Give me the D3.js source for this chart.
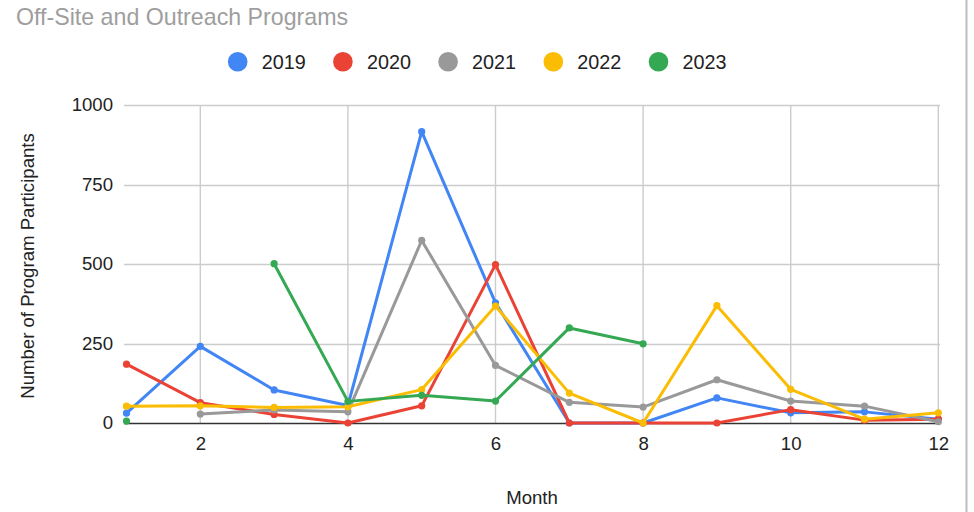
<!DOCTYPE html>
<html>
<head>
<meta charset="utf-8">
<script src="https://cdn.jsdelivr.net/npm/d3@7"></script>
<style>
  html, body { margin: 0; padding: 0; background: #fff; }
  svg { display: block; font-family: "Liberation Sans", Arial, sans-serif; }
</style>
</head>
<body>
<svg id="chart" width="974" height="512"></svg>
<script>
const months = [1, 2, 3, 4, 5, 6, 7, 8, 9, 10, 11, 12];
const seriesNames = ["2019", "2020", "2021", "2022", "2023"];
const seriesColors = ["#4285F4", "#EA4335", "#999999", "#FBBC04", "#34A853"];
const values2019 = [31, 241, 104, 55, 916, 378, 0, 0, 79, 32, 35, 12];
const values2020 = [185, 64, 27, 0, 54, 498, 0, 0, 0, 42, 9, 12];
const values2021 = [null, 28, 41, 35, 574, 181, 65, 50, 136, 69, 53, 4];
const values2022 = [53, 54, 49, 51, 105, 368, 94, 0, 369, 106, 12, 32];
const values2023 = [6, null, 501, 68, 87, 69, 299, 249, null, null, null, null];
const yTicks = [0, 250, 500, 750, 1000];
const xTicks = [2, 4, 6, 8, 10, 12];
const titleText = "Off-Site and Outreach Programs";
const xTitle = "Month";
const yTitle = "Number of Program Participants";

const allValues = [values2019, values2020, values2021, values2022, values2023];

const svg = d3.select("#chart");
const W = 974, H = 512;
const plot = { left: 124, right: 940, top: 105, bottom: 423 };

const x = d3.scaleLinear().domain([0.966, 12.023]).range([plot.left, plot.right]);
const y = d3.scaleLinear().domain([0, 1000]).range([plot.bottom, plot.top]);

// right border
svg.append("line")
  .attr("x1", 966.5).attr("x2", 966.5).attr("y1", 0).attr("y2", H)
  .attr("stroke", "#bdbdbd").attr("stroke-width", 2);

// title
svg.append("text")
  .attr("x", 16).attr("y", 25)
  .attr("fill", "#9e9e9e")
  .attr("font-size", 23.2)
  .text(titleText);

// legend
const legendX0 = 237.7, legendStep = 105.2, legendY = 61.7;
const lg = svg.append("g");
seriesNames.forEach((name, i) => {
  const cx = legendX0 + i * legendStep;
  lg.append("circle").attr("cx", cx).attr("cy", legendY).attr("r", 9.8).attr("fill", seriesColors[i]);
  lg.append("text").attr("x", cx + 24).attr("y", legendY + 6.9)
    .attr("font-size", 19.8).attr("fill", "#222").text(name);
});

// horizontal gridlines
const gridG = svg.append("g");
gridG.selectAll("line.h")
  .data(yTicks.filter(d => d !== 0))
  .enter().append("line")
  .attr("x1", plot.left).attr("x2", plot.right)
  .attr("y1", d => Math.round(y(d)) + 0.5).attr("y2", d => Math.round(y(d)) + 0.5)
  .attr("stroke", "#cccccc").attr("stroke-width", 1.4);

// vertical gridlines
gridG.selectAll("line.v")
  .data(xTicks)
  .enter().append("line")
  .attr("x1", d => x(d)).attr("x2", d => x(d))
  .attr("y1", plot.top).attr("y2", plot.bottom)
  .attr("stroke", "#cccccc").attr("stroke-width", 1.4);

// y axis labels
const yAxis = d3.axisLeft(y).tickValues(yTicks).tickSize(0).tickPadding(11).tickFormat(d3.format("d"));
const yg = svg.append("g").attr("transform", `translate(${plot.left},0)`).call(yAxis);
yg.select(".domain").remove();
yg.selectAll("text").attr("font-size", 18.6).attr("fill", "#222").attr("font-family", "Liberation Sans, Arial, sans-serif");

// x axis labels
const xAxis = d3.axisBottom(x).tickValues(xTicks).tickSize(0).tickPadding(14).tickFormat(d3.format("d"));
const xg = svg.append("g").attr("transform", `translate(0,${plot.bottom})`).call(xAxis);
xg.select(".domain").remove();
xg.selectAll("text").attr("font-size", 18.6).attr("fill", "#222").attr("font-family", "Liberation Sans, Arial, sans-serif");

// baseline
svg.append("line")
  .attr("x1", plot.left).attr("x2", plot.right)
  .attr("y1", y(0) + 0.5).attr("y2", y(0) + 0.5)
  .attr("stroke", "#333").attr("stroke-width", 1.4);

// axis titles
svg.append("text")
  .attr("x", 532).attr("y", 504)
  .attr("text-anchor", "middle").attr("font-size", 18.6).attr("fill", "#222")
  .text(xTitle);
svg.append("text")
  .attr("transform", `translate(34,${(plot.top + plot.bottom) / 2 + 2}) rotate(-90)`)
  .attr("text-anchor", "middle").attr("font-size", 18.6).attr("fill", "#222")
  .text(yTitle);

// series
const line = d3.line()
  .defined(d => d.v !== null)
  .x(d => x(d.m)).y(d => y(d.v));

allValues.forEach((vals, i) => {
  const data = months.map((m, j) => ({ m: m, v: vals[j] }));
  const g = svg.append("g");
  g.append("path").datum(data)
    .attr("d", line)
    .attr("fill", "none")
    .attr("stroke", seriesColors[i])
    .attr("stroke-width", 3)
    .attr("stroke-linejoin", "round")
    .attr("stroke-linecap", "round");
  g.selectAll("circle").data(data.filter(d => d.v !== null))
    .enter().append("circle")
    .attr("cx", d => x(d.m)).attr("cy", d => y(d.v))
    .attr("r", 3.6).attr("fill", seriesColors[i]);
});
</script>
</body>
</html>
